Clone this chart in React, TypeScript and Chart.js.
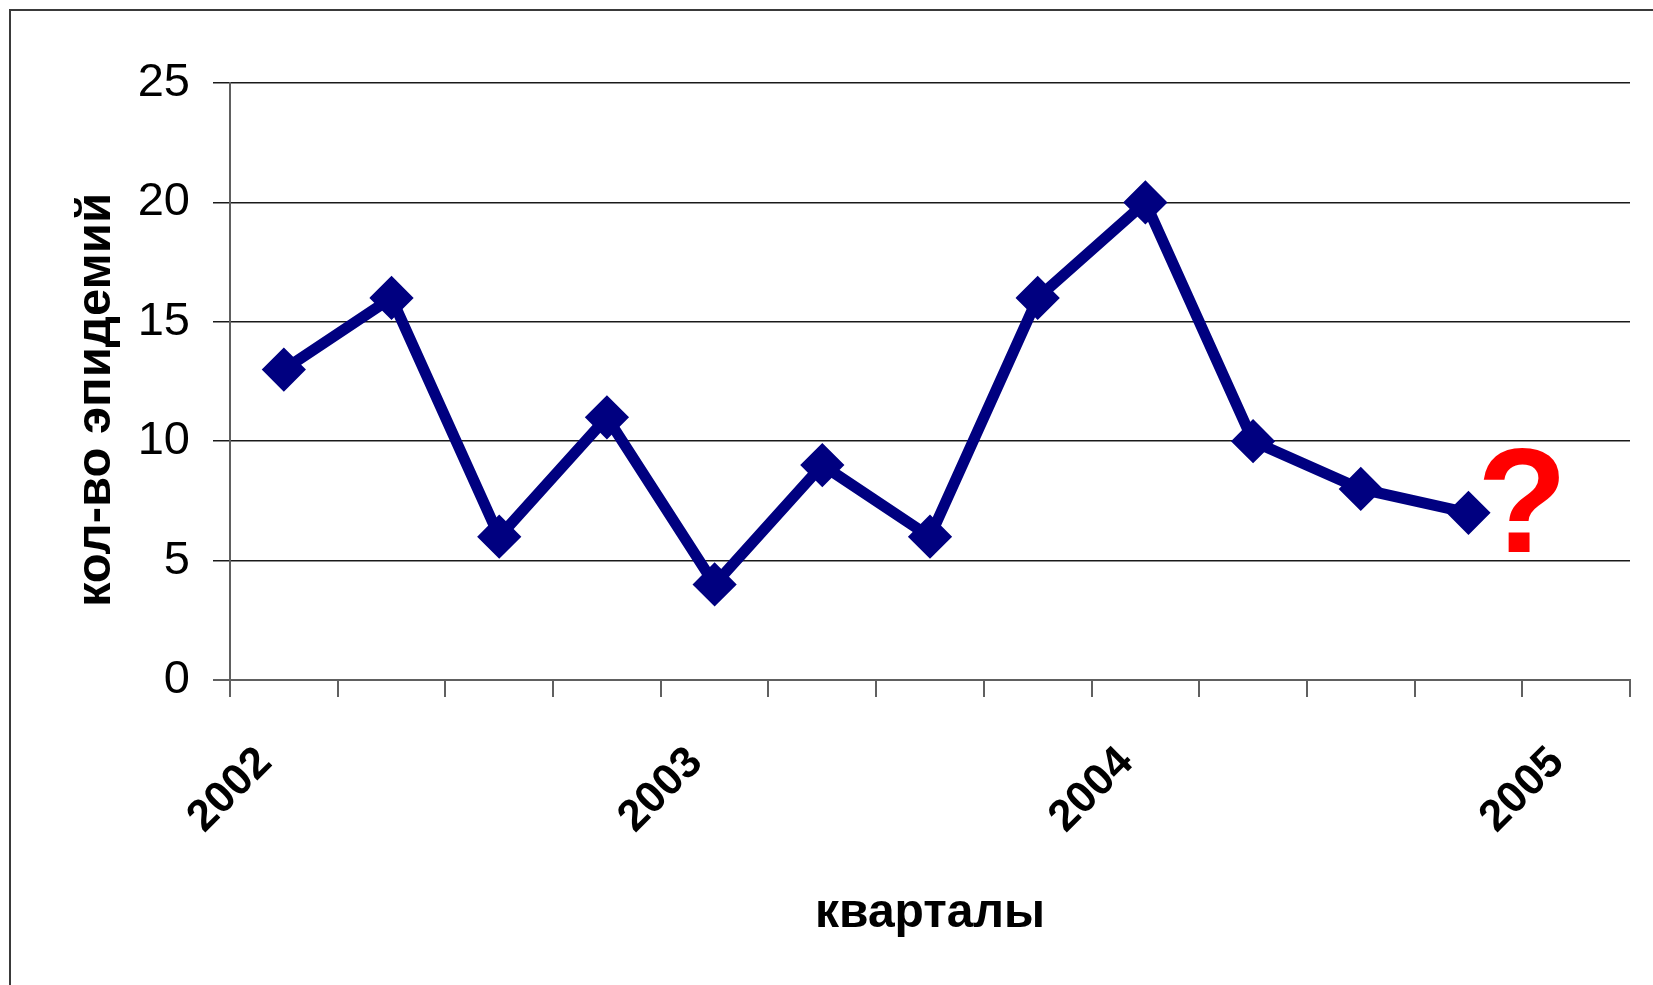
import React, { useEffect, useRef } from 'react';
import { Chart, registerables } from 'chart.js';

Chart.register(...registerables);

const quarterLabels = ['2002', '', '', '', '2003', '', '', '', '2004', '', '', '', '2005'];
const epidemicCounts: (number | null)[] = [13, 16, 6, 11, 4, 9, 6, 16, 20, 10, 8, 7, null];
const yMin = 0;
const yMax = 25;
const yStep = 5;
const yTitle = 'кол-во эпидемий';
const xTitle = 'кварталы';
const questionText = '?';
const questionAt = { index: 11.5, value: 5.35 };

const FONT = '"Liberation Sans", Arial, sans-serif';

const questionPlugin = {
  id: 'questionMark',
  afterDatasetsDraw(chart: any) {
    const { ctx, scales } = chart;
    const x = scales.x.getPixelForValue(questionAt.index);
    const y = scales.y.getPixelForValue(questionAt.value);
    ctx.save();
    ctx.font = `bold 148px ${FONT}`;
    ctx.fillStyle = '#ff0000';
    ctx.textAlign = 'center';
    ctx.textBaseline = 'alphabetic';
    ctx.fillText(questionText, x, y);
    ctx.restore();
  },
};

export default function App() {
  const canvasRef = useRef<HTMLCanvasElement | null>(null);

  useEffect(() => {
    if (!canvasRef.current) return;
    const chart = new Chart(canvasRef.current, {
      type: 'line',
      data: {
        labels: quarterLabels,
        datasets: [
          {
            data: epidemicCounts,
            borderColor: '#000080',
            backgroundColor: '#000080',
            borderWidth: 11,
            pointStyle: 'rectRot',
            pointRadius: 20,
            pointBorderWidth: 3,
            pointBackgroundColor: '#000080',
            pointBorderColor: '#000080',
            tension: 0,
            fill: false,
            spanGaps: false,
          },
        ],
      },
      options: {
        responsive: false,
        animation: false,
        layout: { padding: { left: 67, top: 83, right: 19, bottom: 42 } },
        plugins: { legend: { display: false }, tooltip: { enabled: false } },
        scales: {
          x: {
            type: 'category',
            offset: true,
            grid: {
              offset: true,
              drawOnChartArea: false,
              drawTicks: true,
              tickLength: 17,
              color: '#606060',
              lineWidth: 2,
            },
            border: { display: true, color: '#606060', width: 2 },
            ticks: {
              autoSkip: false,
              maxRotation: 45,
              minRotation: 45,
              color: '#000',
              padding: 40,
              labelOffset: -19,
              font: { family: FONT, size: 44, weight: 'bold' },
            },
            title: {
              display: true,
              text: xTitle,
              color: '#000',
              padding: 0,
              font: { family: FONT, size: 48, weight: 'bold' },
            },
            afterFit(s: any) {
              s.height = 263;
              s.paddingLeft = 0;
              s.paddingRight = 0;
            },
          },
          y: {
            min: yMin,
            max: yMax,
            ticks: {
              stepSize: yStep,
              color: '#000',
              padding: 23,
              font: { family: FONT, size: 47 },
            },
            grid: {
              color: (ctx: any) => (ctx.tick && ctx.tick.value === 0 ? '#606060' : '#1a1a1a'),
              lineWidth: (ctx: any) => (ctx.tick && ctx.tick.value === 0 ? 2 : 1.5),
              tickLength: 17,
              drawTicks: true,
            },
            border: { display: true, color: '#606060', width: 2 },
            title: {
              display: true,
              text: yTitle + '  \u2009',
              color: '#000',
              padding: 0,
              font: { family: FONT, size: 49, weight: 'bold' },
            },
            afterFit(s: any) {
              s.width = 230 - 67;
            },
          },
        },
      },
      plugins: [questionPlugin],
    } as any);
    return () => chart.destroy();
  }, []);

  return (
    <div
      style={{
        position: 'absolute',
        left: 0,
        top: 0,
        width: 1653,
        height: 985,
        overflow: 'hidden',
        background: '#ffffff',
      }}
    >
      <div
        style={{
          position: 'absolute',
          left: 9,
          top: 9,
          width: 2000,
          height: 2000,
          border: '2px solid #3a3a3a',
        }}
      />
      <canvas ref={canvasRef} width={1653} height={985} style={{ position: 'absolute', left: 0, top: 0 }} />
    </div>
  );
}
